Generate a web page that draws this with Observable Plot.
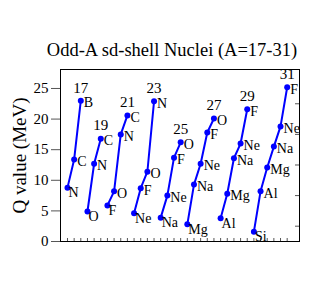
<!DOCTYPE html>
<html><head><meta charset="utf-8">
<script src="https://cdn.jsdelivr.net/npm/d3@7"></script>
<script src="https://cdn.jsdelivr.net/npm/@observablehq/plot@0.6"></script>
<style>body{margin:0;background:#fff;}</style>
</head><body><div id="chart"></div>
<script>
const titleText = "Odd-A sd-shell Nuclei (A=17-31)";
const yLabel = "Q value (MeV)";
const massNumbers = [17, 19, 21, 23, 25, 27, 29, 31];
const elements = [
  ["N", "C", "B"],
  ["O", "N", "C"],
  ["F", "O", "N", "C"],
  ["Ne", "F", "O", "N"],
  ["Na", "Ne", "F", "O"],
  ["Mg", "Na", "Ne", "F", "O"],
  ["Al", "Mg", "Na", "Ne", "F"],
  ["Si", "Al", "Mg", "Na", "Ne", "F"]
];
const qValues = [
  [8.8, 13.4, 23.0],
  [4.9, 12.7, 16.8],
  [5.9, 8.2, 17.5, 20.6],
  [4.6, 8.7, 11.4, 22.9],
  [3.9, 7.5, 13.7, 16.2],
  [2.8, 9.3, 12.7, 17.8, 20.1],
  [3.8, 7.8, 13.6, 16.0, 21.6],
  [1.6, 8.2, 12.1, 15.5, 18.8, 25.2]
];
const yTicks = [0, 5, 10, 15, 20, 25];
const yRightTicks = [2.5, 7.5, 12.5, 17.5, 22.5];

const rows = [];
let idx = 0;
massNumbers.forEach((A, g) => {
  elements[g].forEach((el, k) => {
    rows.push({A, el, q: qValues[g][k], i: idx++, first: k === 0, last: k === elements[g].length - 1});
  });
});
const xTicks = rows.map(d => d.i);

const W = 311, H = 290, mT = 69, mB = 49, mL = 60, mR = 12;
const innerW = W - mL - mR, innerH = H - mT - mB;
const blue = "#0000ff";

const plot = Plot.plot({
  width: W, height: H,
  marginTop: mT, marginBottom: mB, marginLeft: mL, marginRight: mR,
  style: {fontFamily: "'Liberation Serif', 'Times New Roman', serif", fontSize: "15px", color: "black", background: "white"},
  x: {domain: [-1.05, 34.85], axis: null},
  y: {domain: [0, 28.1], axis: null},
  marks: [
    Plot.frame({stroke: "black", strokeWidth: 1}),
    Plot.axisY({ticks: yTicks, tickSize: 9, tickPadding: 3, fontSize: 15, label: null, stroke: "#555"}),
    Plot.tickY(yRightTicks, {y: d => d, insetLeft: innerW - 4, stroke: "#555"}),
    Plot.tickX(xTicks, {x: d => d, insetTop: innerH - 3, stroke: "#555"}),
    Plot.line(rows, {x: "i", y: "q", z: "A", stroke: blue, strokeWidth: 2}),
    Plot.dot(rows, {x: "i", y: "q", r: 3, fill: blue}),
    Plot.text(rows.filter(d => d.first), {x: "i", y: "q", text: "el", textAnchor: "start", lineAnchor: "middle", dx: 1, dy: 5, fontSize: 14, fill: "black"}),
    Plot.text(rows.filter(d => !d.first), {x: "i", y: "q", text: "el", textAnchor: "start", lineAnchor: "middle", dx: 3, dy: 2, fontSize: 14, fill: "black"}),
    Plot.text(rows.filter(d => d.last), {x: "i", y: "q", text: d => String(d.A), lineAnchor: "middle", dy: -13, fontSize: 15, fill: "black"}),
    Plot.text([titleText], {frameAnchor: "top", textAnchor: "middle", lineAnchor: "middle", dx: -8, dy: -19, fontSize: 18.5, fill: "black"}),
    Plot.text([yLabel], {frameAnchor: "left", textAnchor: "middle", lineAnchor: "middle", rotate: -90, dx: -41, fontSize: 19, fill: "black"})
  ]
});
document.getElementById("chart").appendChild(plot);
</script>
</body></html>
